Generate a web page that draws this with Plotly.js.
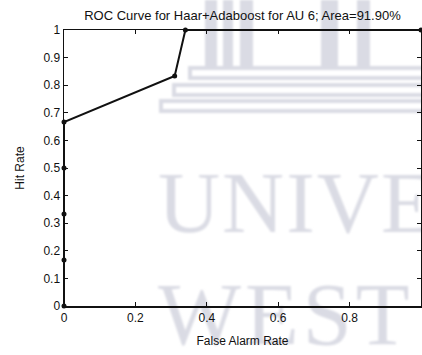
<!DOCTYPE html>
<html>
<head>
<meta charset="utf-8">
<script src="https://cdn.plot.ly/plotly-3.0.1.min.js"></script>
<style>html,body{margin:0;padding:0;background:#fff;}#chart{width:422px;height:355px;}</style>
</head>
<body>
<div id="chart"></div>
<script>
// ROC points
var falseAlarmRate = [0, 0, 0, 0, 0, 0.31, 0.34, 1];
var hitRate = [0, 0.1667, 0.3333, 0.5, 0.6667, 0.8333, 1, 1];
var xTickVals = [0, 0.2, 0.4, 0.6, 0.8];
var xTickText = ["0", "0.2", "0.4", "0.6", "0.8"];
var yTickVals = [0, 0.1, 0.2, 0.3, 0.4, 0.5, 0.6, 0.7, 0.8, 0.9, 1];
var yTickText = ["0", "0.1", "0.2", "0.3", "0.4", "0.5", "0.6", "0.7", "0.8", "0.9", "1"];

// plot area geometry in pixels
var L = 64, R = 421, T = 30, B = 306, W = 422, H = 355;

// faint background watermark (page decoration) as an SVG image below the plot
var wm = "#dadbe4";
var svg = '<svg xmlns="http://www.w3.org/2000/svg" width="422" height="355" viewBox="0 0 422 355">' +
  '<defs><filter id="b"><feGaussianBlur stdDeviation="1.1"/></filter></defs>' +
  '<g filter="url(#b)" fill="' + wm + '">' +
  '<rect x="205" y="0" width="12" height="68"/>' +
  '<rect x="223" y="0" width="10" height="68"/>' +
  '<rect x="240" y="0" width="13" height="68"/>' +
  '<rect x="321" y="0" width="17" height="68"/>' +
  '<rect x="357" y="0" width="13" height="68"/>' +
  '<rect x="190" y="68" width="240" height="10" fill="none" stroke="' + wm + '" stroke-width="4"/>' +
  '<rect x="174" y="85" width="260" height="10" fill="none" stroke="' + wm + '" stroke-width="4"/>' +
  '<rect x="161" y="101" width="270" height="10" fill="none" stroke="' + wm + '" stroke-width="4"/>' +
  '<text x="158" y="232" font-family="Liberation Serif, Times New Roman, serif" font-size="86" letter-spacing="2">UNIVE</text>' +
  '<text x="158" y="344" font-family="Liberation Serif, Times New Roman, serif" font-size="88" letter-spacing="4">WEST</text>' +
  '</g></svg>';
var svgUri = "data:image/svg+xml;charset=utf-8," + encodeURIComponent(svg);

var data = [{
  x: falseAlarmRate, y: hitRate, type: "scatter", mode: "lines+markers",
  line: {color: "#111", width: 2},
  marker: {color: "#111", size: 5},
  cliponaxis: false, showlegend: false, hoverinfo: "skip"
}];

var tickFont = {family: "Liberation Sans, Arial, sans-serif", size: 12, color: "#111"};
var labFont = {family: "Liberation Sans, Arial, sans-serif", size: 12, color: "#111"};
var layout = {
  width: W, height: H,
  margin: {l: L, r: W - R, t: T, b: H - B, pad: 0},
  paper_bgcolor: "#fff", plot_bgcolor: "rgba(0,0,0,0)",
  font: tickFont,
  title: {text: "ROC Curve for Haar+Adaboost for AU 6; Area=91.90%", font: {family: "Liberation Sans, Arial, sans-serif", size: 13, color: "#111"}, x: 0.5, xref: "paper", xanchor: "center", y: 1 - 15 / H, yanchor: "middle"},
  xaxis: {range: [0, 1], tickvals: xTickVals, ticktext: xTickText, ticks: "inside", ticklen: 4, tickcolor: "#111",
    showline: true, linecolor: "#111", linewidth: 1.5, mirror: "ticks", showgrid: false, zeroline: false,
    tickfont: tickFont, title: {text: "False Alarm Rate", font: labFont, standoff: 12}},
  yaxis: {range: [0, 1], tickvals: yTickVals, ticktext: yTickText, ticks: "inside", ticklen: 4, tickcolor: "#111",
    showline: true, linecolor: "#111", linewidth: 1.5, mirror: "ticks", showgrid: false, zeroline: false,
    tickfont: tickFont, title: {text: "Hit Rate", font: labFont, standoff: 16}},
  images: [{
    source: svgUri, xref: "paper", yref: "paper",
    x: -L / (R - L), y: 1 + T / (B - T), sizex: W / (R - L), sizey: H / (B - T),
    xanchor: "left", yanchor: "top", sizing: "stretch", layer: "below"
  }]
};
Plotly.newPlot("chart", data, layout, {displayModeBar: false, staticPlot: true});
</script>
</body>
</html>
